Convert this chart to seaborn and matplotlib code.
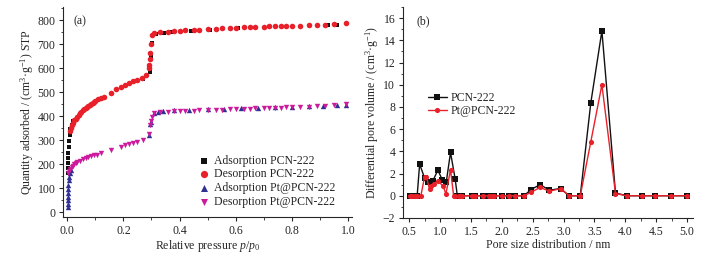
import matplotlib
matplotlib.use("Agg")
import matplotlib.pyplot as plt
import seaborn as sns
import pandas as pd
from matplotlib.ticker import MultipleLocator

# ─── Data: (a) N2 isotherms ─────────────────────────────────────────
ads_pcn_x = [0.001, 0.0015, 0.002, 0.003, 0.004, 0.005, 0.006, 0.008, 0.011, 0.015, 0.022,
             0.27, 0.295, 0.298, 0.301, 0.315, 0.345, 0.37, 0.44, 0.51, 0.61, 0.93, 0.96]
ads_pcn_y = [165, 185, 205, 225, 248, 272, 298, 322, 345, 365, 380,
             557, 585, 650, 705, 742, 748, 752, 757, 760, 767, 780, 782]

des_pcn_x = [0.995, 0.95, 0.92, 0.89, 0.86, 0.83, 0.80, 0.78, 0.76, 0.74, 0.72, 0.70, 0.67,
             0.65, 0.63, 0.60, 0.58, 0.55, 0.53, 0.50, 0.47, 0.45, 0.42, 0.40, 0.38, 0.36,
             0.33, 0.31, 0.302, 0.298, 0.296, 0.294, 0.292, 0.29, 0.28, 0.265, 0.25, 0.235,
             0.22, 0.205, 0.19, 0.175, 0.155, 0.13, 0.12, 0.11, 0.10, 0.095, 0.09, 0.085,
             0.08, 0.075, 0.07, 0.065, 0.06, 0.055, 0.05, 0.045, 0.04, 0.035, 0.03, 0.025,
             0.02, 0.015, 0.012, 0.008]
des_pcn_y = [788, 785, 782, 780, 779, 778, 777, 776, 775, 774, 774, 773, 772,
             771, 770, 768, 767, 766, 764, 762, 760, 760, 758, 756, 754, 752,
             749, 745, 740, 700, 665, 640, 615, 600, 570, 560, 552, 545,
             537, 528, 520, 512, 495, 482, 475, 470, 465, 460, 456, 452,
             448, 444, 440, 435, 430, 424, 418, 412, 405, 398, 390, 382,
             372, 362, 352, 340]

ads_pt_x = [0.001, 0.001, 0.0015, 0.002, 0.002, 0.003, 0.004, 0.005, 0.007, 0.009, 0.012,
            0.29, 0.296, 0.30, 0.31, 0.325, 0.34, 0.38, 0.435, 0.50, 0.56, 0.62, 0.68,
            0.74, 0.80, 0.86, 0.91, 0.96, 0.995]
ads_pt_y = [22, 35, 50, 65, 80, 98, 115, 132, 148, 162, 175,
            320, 368, 375, 415, 418, 420, 424, 427, 429, 431, 433, 435,
            437, 439, 441, 443, 445, 448]

des_pt_x = [0.995, 0.95, 0.92, 0.89, 0.86, 0.83, 0.80, 0.78, 0.76, 0.74, 0.72, 0.70, 0.67,
            0.65, 0.63, 0.60, 0.58, 0.55, 0.53, 0.50, 0.47, 0.45, 0.42, 0.40, 0.38, 0.36,
            0.33, 0.31, 0.302, 0.298, 0.295, 0.29, 0.27, 0.25, 0.235, 0.22, 0.205, 0.19,
            0.155, 0.12, 0.105, 0.095, 0.085, 0.075, 0.065, 0.055, 0.045, 0.035, 0.03,
            0.025, 0.02, 0.015, 0.01, 0.006, 0.004]
des_pt_y = [450, 446, 443, 441, 440, 439, 438, 437, 436, 435, 434, 433, 432,
            431, 430, 429, 428, 427, 426, 425, 424, 423, 422, 421, 420, 419,
            418, 415, 395, 380, 365, 325, 300, 293, 287, 282, 278, 272,
            258, 245, 240, 236, 232, 228, 224, 220, 215, 208, 204,
            199, 194, 188, 180, 172, 165]

# ─── Data: (b) pore size distribution ───────────────────────────────
psd_pcn_x = [0.51, 0.55, 0.59, 0.63, 0.67, 0.75, 0.81, 0.88, 0.965, 1.04, 1.10, 1.17, 1.245,
             1.28, 1.32, 1.36, 1.51, 1.56, 1.69, 1.79, 1.84, 1.87, 2.01, 2.12, 2.22, 2.36,
             2.47, 2.62, 2.77, 2.95, 3.09, 3.27, 3.44, 3.62, 3.84, 4.02, 4.27, 4.48, 4.74, 5.00]
psd_pcn_y = [0, 0, 0, 0, 2.85, 1.6, 1.2, 1.3, 2.3, 1.4, 1.2, 3.9, 1.5,
             0, 0, 0, 0, 0, 0, 0, 0, 0, 0, 0, 0, 0,
             0.55, 1.0, 0.5, 0.65, 0, 0, 8.35, 14.85, 0.25, 0, 0, 0, 0, 0]

psd_pt_x = [0.51, 0.55, 0.59, 0.63, 0.69, 0.75, 0.78, 0.83, 0.86, 0.90, 0.965, 1.05, 1.095,
            1.17, 1.22, 1.25, 1.30, 1.33, 1.36, 1.51, 1.56, 1.69, 1.79, 1.84, 1.87, 2.01,
            2.12, 2.22, 2.36, 2.47, 2.62, 2.77, 2.95, 3.09, 3.27, 3.44, 3.62, 3.84, 4.02,
            4.27, 4.48, 4.74, 5.00]
psd_pt_y = [0, 0, 0, 0, 0, 1.7, 1.7, 0.6, 0.9, 1.1, 1.3, 0.9, 0.15,
            2.35, 0, 0, 0, 0, 0, 0, 0, 0, 0, 0, 0, 0,
            0, 0, 0, 0.3, 0.75, 0.4, 0.65, 0, 0, 4.85, 10.0, 0.2, 0,
            0, 0, 0, 0]

# ─── Style ──────────────────────────────────────────────────────────
sns.set_theme(style="ticks")
plt.rcParams["font.family"] = ["Liberation Serif", "DejaVu Serif"]
plt.rcParams["mathtext.fontset"] = "custom"
plt.rcParams["mathtext.rm"] = "Liberation Serif"
plt.rcParams["mathtext.it"] = "Liberation Serif:italic"
FS = 8.5

BLACK = "#111111"
RED = "#e8202a"
BLUE = "#2e3192"
MAGENTA = "#cc1a9c"

fig = plt.figure(figsize=(7.17, 2.61), dpi=100)
ax1 = fig.add_axes([0.088, 0.169, 0.403, 0.804])
ax2 = fig.add_axes([0.562, 0.165, 0.405, 0.808])

# ─── (a) ────────────────────────────────────────────────────────────
series_a = [
    (ads_pcn_x, ads_pcn_y, "s", BLACK, 12, "Adsorption PCN-222"),
    (des_pcn_x, des_pcn_y, "o", RED, 16, "Desorption PCN-222"),
    (ads_pt_x, ads_pt_y, "^", BLUE, 15, "Adsorption Pt@PCN-222"),
    (des_pt_x, des_pt_y, "v", MAGENTA, 15, "Desorption Pt@PCN-222"),
]
for xs, ys, mk, col, size, lab in series_a:
    df = pd.DataFrame({"p": xs, "q": ys})
    sns.scatterplot(data=df, x="p", y="q", marker=mk, color=col, s=size,
                    linewidth=0, label=lab, ax=ax1)

ax1.set_xlim(-0.015, 1.015)
ax1.set_ylim(-20, 855)
ax1.xaxis.set_major_locator(MultipleLocator(0.2))
ax1.xaxis.set_minor_locator(MultipleLocator(0.1))
ax1.yaxis.set_major_locator(MultipleLocator(100))
ax1.yaxis.set_minor_locator(MultipleLocator(50))
ax1.set_xlabel("Relative pressure $\\it{p}$/$\\it{p}_0$", fontsize=FS, labelpad=1)
ax1.set_ylabel("Quantity adsorbed / (cm$^3$·g$^{-1}$) STP", fontsize=FS, labelpad=1)
ax1.text(0.035, 0.96, "(a)", transform=ax1.transAxes, fontsize=FS, va="top")
ax1.legend(loc="lower right", bbox_to_anchor=(0.96, 0.02), frameon=False,
           fontsize=FS, handlelength=1.0, handletextpad=0.35, labelspacing=0.15,
           markerscale=1.3, borderaxespad=0)

# ─── (b) ────────────────────────────────────────────────────────────
series_b = [
    (psd_pcn_x, psd_pcn_y, "s", BLACK, "PCN-222"),
    (psd_pt_x, psd_pt_y, "o", RED, "Pt@PCN-222"),
]
for xs, ys, mk, col, lab in series_b:
    df = pd.DataFrame({"d": xs, "v": ys})
    sns.lineplot(data=df, x="d", y="v", sort=False, color=col, marker=mk,
                 markersize=3.7, markeredgewidth=0, linewidth=1, label=lab, ax=ax2)

ax2.set_xlim(0.4, 5.1)
ax2.set_ylim(-2, 17)
ax2.xaxis.set_major_locator(MultipleLocator(0.5))
ax2.xaxis.set_minor_locator(MultipleLocator(0.25))
ax2.yaxis.set_major_locator(MultipleLocator(2))
ax2.yaxis.set_minor_locator(MultipleLocator(1))
ax2.set_xlabel("Pore size distribution / nm", fontsize=FS, labelpad=1)
ax2.set_ylabel("Differential pore volume / (cm$^3$·g$^{-1}$)", fontsize=FS, labelpad=1)
ax2.text(0.045, 0.96, "(b)", transform=ax2.transAxes, fontsize=FS, va="top")
ax2.legend(loc="upper left", bbox_to_anchor=(0.07, 0.62), frameon=False,
           fontsize=FS, handlelength=1.6, handletextpad=0.3, labelspacing=0.1,
           borderaxespad=0)

for ax in (ax1, ax2):
    sns.despine(ax=ax)
    ax.tick_params(axis="both", which="major", direction="out", length=3,
                   width=0.8, labelsize=FS, pad=2.5)
    ax.tick_params(axis="both", which="minor", direction="out", length=1.8, width=0.6)
    for sp in ("left", "bottom"):
        ax.spines[sp].set_linewidth(0.8)

fig.savefig("out.png", dpi=100)
